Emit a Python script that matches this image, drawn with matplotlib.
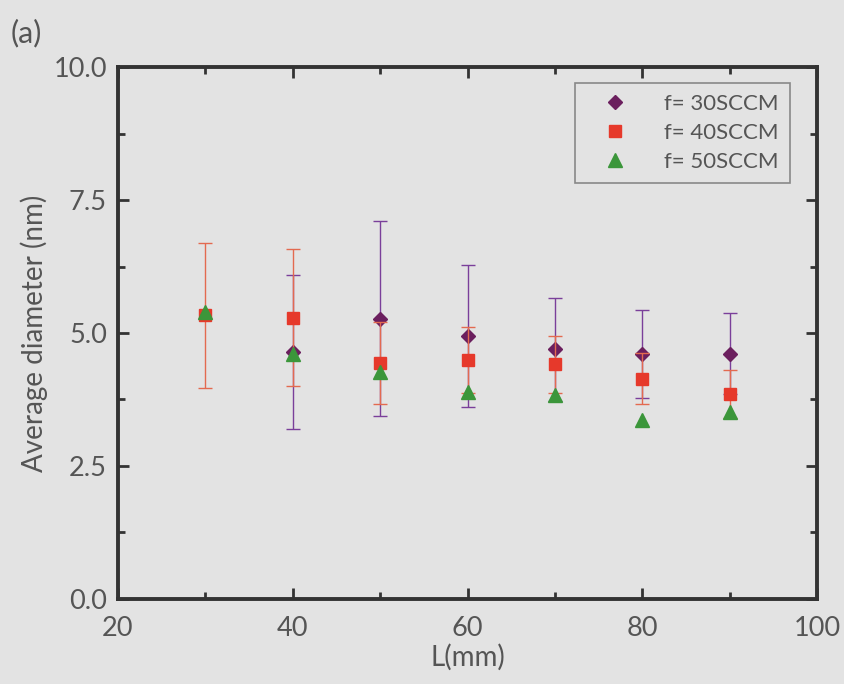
import matplotlib.pyplot as plt
import numpy as np

# Average diameter vs distance L for three flow rates
L_30 = [40, 50, 60, 70, 80, 90]
d_30 = [4.64, 5.27, 4.94, 4.69, 4.61, 4.61]
err_30 = [1.45, 1.83, 1.34, 0.97, 0.83, 0.76]

L_40 = [30, 40, 50, 60, 70, 80, 90]
d_40 = [5.33, 5.29, 4.43, 4.50, 4.41, 4.14, 3.86]
err_40 = [1.36, 1.28, 0.77, 0.62, 0.53, 0.48, 0.45]

L_50 = [30, 40, 50, 60, 70, 80, 90]
d_50 = [5.40, 4.61, 4.26, 3.90, 3.84, 3.36, 3.51]

bg = '#e3e3e3'
txt = '#555555'
plt.rcParams['font.family'] = ['Lato', 'DejaVu Sans']

fig = plt.figure(figsize=(8.45, 6.84), dpi=100, facecolor=bg)
ax = fig.add_axes([0.1396, 0.1243, 0.8274, 0.7777], facecolor=bg)

e30 = ax.errorbar(L_30, d_30, yerr=err_30, fmt='D', color='#6b1f5e', ecolor='#7a3f9a',
                  ms=7, elinewidth=1.0, capsize=5, capthick=1.0, zorder=3)
e40 = ax.errorbar(L_40, d_40, yerr=err_40, fmt='s', color='#e6392b', ecolor='#e36a50',
                  ms=8.5, elinewidth=1.0, capsize=5, capthick=1.0, zorder=4)
p50, = ax.plot(L_50, d_50, '^', color='#3b963a', ms=9.5, zorder=5)

ax.set_xlim(20, 100)
ax.set_ylim(0, 10)
ax.set_xticks([20, 40, 60, 80, 100])
ax.set_xticks([30, 50, 70, 90], minor=True)
ax.set_yticks([0, 2.5, 5.0, 7.5, 10.0])
ax.set_yticklabels(['0.0', '2.5', '5.0', '7.5', '10.0'])
ax.set_yticks([1.25, 3.75, 6.25, 8.75], minor=True)

ax.tick_params(which='both', direction='in', top=True, right=True,
               colors='#333333', labelcolor=txt, labelsize=19.5, width=2)
ax.tick_params(which='major', length=8)
ax.tick_params(axis='x', which='major', pad=12)
ax.tick_params(axis='y', which='major', pad=8)
ax.tick_params(which='minor', length=5)
for s in ax.spines.values():
    s.set_linewidth(2.8)
    s.set_color('#333333')

ax.set_xlabel('L(mm)', fontsize=20, color=txt, labelpad=2)
ax.set_ylabel('Average diameter (nm)', fontsize=20, color=txt, labelpad=4)
fig.text(0.013, 0.938, '(a)', fontsize=22, color=txt)

leg = ax.legend([e30[0], e40[0], p50], ['f= 30SCCM', 'f= 40SCCM', 'f= 50SCCM'],
                loc='upper right', bbox_to_anchor=(0.961, 0.97), fontsize=16,
                frameon=True, fancybox=False, framealpha=1, facecolor=bg,
                edgecolor='#888888', handlelength=2.6, handletextpad=0.9,
                borderpad=0.5, labelspacing=0.4, borderaxespad=0, numpoints=1)
leg.get_frame().set_linewidth(1.2)
for t in leg.get_texts():
    t.set_color(txt)

plt.savefig('out.png', dpi=100, facecolor=bg)
